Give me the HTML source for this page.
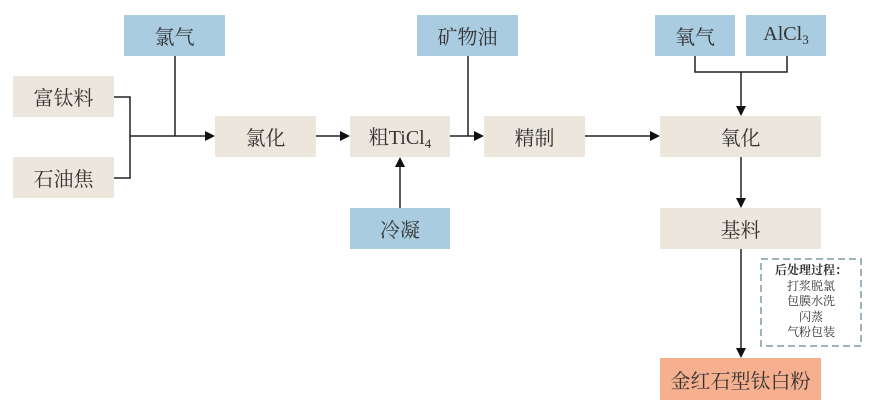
<!DOCTYPE html>
<html><head><meta charset="utf-8"><style>
body{margin:0;width:869px;height:413px;background:#fff;position:relative;overflow:hidden;font-family:"Liberation Serif","Noto Serif CJK SC",serif;}
.b{position:absolute;display:flex;align-items:center;justify-content:center;font-size:20px;color:#333;}
.g{background:#ece6dd}.u{background:#a9cce0}.o{background:#f6b08f}
sub{font-size:13px;vertical-align:-4px}
svg{position:absolute;left:0;top:0}
.d{position:absolute;left:760px;top:258px;font-size:12px;line-height:15.5px;text-align:center;color:#333;padding-top:5px;box-sizing:border-box;width:102px;height:89px}
</style></head><body>
<div class="b u" style="left:124px;top:15px;width:101px;height:41px">氯气</div>
<div class="b g" style="left:13px;top:76px;width:101px;height:41px">富钛料</div>
<div class="b g" style="left:13px;top:157px;width:101px;height:41px">石油焦</div>
<div class="b g" style="left:215px;top:116px;width:101px;height:41px">氯化</div>
<div class="b g" style="left:350px;top:116px;width:100px;height:41px"><span>粗TiCl<sub>4</sub></span></div>
<div class="b u" style="left:350px;top:208px;width:100px;height:41px">冷凝</div>
<div class="b u" style="left:417px;top:15px;width:101px;height:41px">矿物油</div>
<div class="b g" style="left:484px;top:116px;width:101px;height:41px">精制</div>
<div class="b g" style="left:660px;top:116px;width:161px;height:41px">氧化</div>
<div class="b u" style="left:655px;top:15px;width:80px;height:41px">氧气</div>
<div class="b u" style="left:746px;top:15px;width:80px;height:41px"><span>AlCl<sub>3</sub></span></div>
<div class="b g" style="left:660px;top:208px;width:161px;height:41px">基料</div>
<div class="b o" style="left:660px;top:358px;width:161px;height:42px">金红石型钛白粉</div>
<div class="d"><b>后处理过程：</b><br>打浆脱氯<br>包膜水洗<br>闪蒸<br>气粉包装</div>
<svg width="869" height="413">
<rect x="761" y="259" width="100" height="87" fill="none" stroke="#7f9ba5" stroke-width="1.5" stroke-dasharray="7,4"/>
<g stroke="#222" stroke-width="1.5" fill="none">
<path d="M114 97H130V178H114M130 136H206M175 56V136"/>
<path d="M316 136H341"/>
<path d="M400 208V166"/>
<path d="M450 136H475M468 56V136"/>
<path d="M585 136H651"/>
<path d="M695 56V72H787V56M741 72V107"/>
<path d="M741 157V199"/>
<path d="M741 249V349"/>
</g>
<g fill="#111">
<path d="M215 136l-10-5v10z"/>
<path d="M350 136l-10-5v10z"/>
<path d="M400 157l-5 10h10z"/>
<path d="M484 136l-10-5v10z"/>
<path d="M660 136l-10-5v10z"/>
<path d="M741 116l-5-10h10z"/>
<path d="M741 208l-5-10h10z"/>
<path d="M741 358l-5-10h10z"/>
</g>
</svg>
</body></html>
